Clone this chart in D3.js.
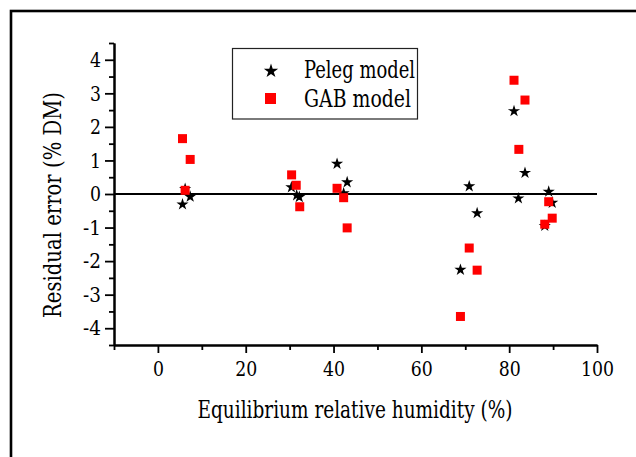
<!DOCTYPE html>
<html><head><meta charset="utf-8">
<script src="https://cdn.jsdelivr.net/npm/d3@7"></script>
<style>
body{margin:0;background:#fff;}
</style></head>
<body><svg id="c" width="636" height="457" font-family="DejaVu Serif"></svg>
<script>
// Data
const xMajorTicks = [0, 20, 40, 60, 80, 100];
const xMinorTicks = [-10, 10, 30, 50, 70, 90];
const yMajorTicks = [-4, -3, -2, -1, 0, 1, 2, 3, 4];
const yMinorTicks = [-4.5, -3.5, -2.5, -1.5, -0.5, 0.5, 1.5, 2.5, 3.5, 4.5];

const pelegErh = [5.6, 6.2, 7.35, 30.4, 31.6, 32.2, 40.8, 42.3, 43.1, 68.9, 70.9, 72.7, 81.1, 82.1, 83.6, 88.1, 89.0, 89.8];
const pelegResidual = [-0.31, 0.15, -0.08, 0.20, -0.04, -0.09, 0.90, 0.02, 0.35, -2.26, 0.23, -0.57, 2.47, -0.13, 0.63, -0.95, 0.07, -0.26];
const gabErh = [5.6, 6.2, 7.35, 30.45, 31.5, 32.3, 40.8, 42.3, 43.1, 68.9, 70.9, 72.7, 81.1, 82.2, 83.6, 88.1, 89.0, 89.8];
const gabResidual = [1.65, 0.11, 1.03, 0.57, 0.26, -0.38, 0.17, -0.11, -1.01, -3.65, -1.61, -2.27, 3.39, 1.33, 2.80, -0.90, -0.23, -0.72];

const seriesNames = ["Peleg model", "GAB model"];
const xTitle = "Equilibrium relative humidity (%)";
const yTitle = "Residual error (% DM)";

const FONT = "DejaVu Serif";
const svg = d3.select("#c");

// outer frame
svg.append("rect").attr("x", 11).attr("y", 11).attr("width", 660).attr("height", 480)
  .attr("fill", "none").attr("stroke", "#000").attr("stroke-width", 2.6);

const x = d3.scaleLinear().domain([-10, 100]).range([114, 597]);
const y = d3.scaleLinear().domain([-4.5, 4.5]).range([345, 43]);

function labelLen(s) {
  let n = 0;
  for (const ch of s) n += (ch === "-") ? 7 : 11;
  return n;
}

function styleAxis(g) {
  g.attr("font-family", FONT);
  g.selectAll(".domain").attr("stroke", "#000").attr("stroke-width", 2);
  g.selectAll(".tick line").attr("stroke", "#000").attr("stroke-width", 1.8);
  g.selectAll(".tick text").attr("fill", "#000").attr("font-size", 21).attr("font-family", FONT)
    .each(function() {
      const t = this.textContent;
      if (t) d3.select(this).attr("textLength", labelLen(t)).attr("lengthAdjust", "spacingAndGlyphs");
    });
}

// x axis
const gxMinor = svg.append("g").attr("transform", "translate(0,345)")
  .call(d3.axisBottom(x).tickValues(xMinorTicks).tickSize(5).tickSizeOuter(0).tickFormat(""));
styleAxis(gxMinor);
const gx = svg.append("g").attr("transform", "translate(0,345)")
  .call(d3.axisBottom(x).tickValues(xMajorTicks).tickSize(8).tickSizeOuter(0).tickPadding(8).tickFormat(d => String(d)));
styleAxis(gx);

// y axis
const gyMinor = svg.append("g").attr("transform", "translate(114,0)")
  .call(d3.axisLeft(y).tickValues(yMinorTicks).tickSize(5).tickSizeOuter(0).tickFormat(""));
styleAxis(gyMinor);
const gy = svg.append("g").attr("transform", "translate(114,0)")
  .call(d3.axisLeft(y).tickValues(yMajorTicks).tickSize(9).tickSizeOuter(0).tickPadding(4).tickFormat(d => String(d)));
styleAxis(gy);

// zero line
svg.append("line").attr("x1", x(-10)).attr("x2", x(100)).attr("y1", y(0)).attr("y2", y(0))
  .attr("stroke", "#000").attr("stroke-width", 2);

// titles
svg.append("text").attr("x", 355).attr("y", 418).attr("text-anchor", "middle").attr("font-family", FONT)
  .attr("font-size", 24).attr("textLength", 315).attr("lengthAdjust", "spacingAndGlyphs")
  .attr("fill", "#000").text(xTitle);
svg.append("text").attr("transform", "translate(61,205) rotate(-90)").attr("text-anchor", "middle").attr("font-family", FONT)
  .attr("font-size", 24).attr("textLength", 226).attr("lengthAdjust", "spacingAndGlyphs")
  .attr("fill", "#000").text(yTitle);

// markers
const star = d3.symbol().type(d3.symbolStar).size(46);
const pelegData = pelegErh.map((e, i) => ({x: e, y: pelegResidual[i]}));
const gabData = gabErh.map((e, i) => ({x: e, y: gabResidual[i]}));

svg.append("g").selectAll("path").data(pelegData).join("path")
  .attr("d", star).attr("transform", d => `translate(${x(d.x)},${y(d.y)})`).attr("fill", "#000");

const sq = 9;
svg.append("g").selectAll("rect").data(gabData).join("rect")
  .attr("x", d => x(d.x) - sq / 2).attr("y", d => y(d.y) - sq / 2)
  .attr("width", sq).attr("height", sq).attr("fill", "#ff0000");

// legend
const lg = svg.append("g");
lg.append("rect").attr("x", 232.5).attr("y", 48.5).attr("width", 185).attr("height", 70.5)
  .attr("fill", "#fff").attr("stroke", "#222").attr("stroke-width", 1.2);
lg.append("path").attr("d", d3.symbol().type(d3.symbolStar).size(64)())
  .attr("transform", "translate(271,71)").attr("fill", "#000");
lg.append("rect").attr("x", 265).attr("y", 93).attr("width", 11).attr("height", 11).attr("fill", "#ff0000");
lg.append("text").attr("x", 304).attr("y", 78).attr("font-family", FONT).attr("font-size", 24).attr("textLength", 111)
  .attr("lengthAdjust", "spacingAndGlyphs").attr("fill", "#000").text(seriesNames[0]);
lg.append("text").attr("x", 304).attr("y", 107).attr("font-family", FONT).attr("font-size", 24).attr("textLength", 107)
  .attr("lengthAdjust", "spacingAndGlyphs").attr("fill", "#000").text(seriesNames[1]);
</script></body></html>
